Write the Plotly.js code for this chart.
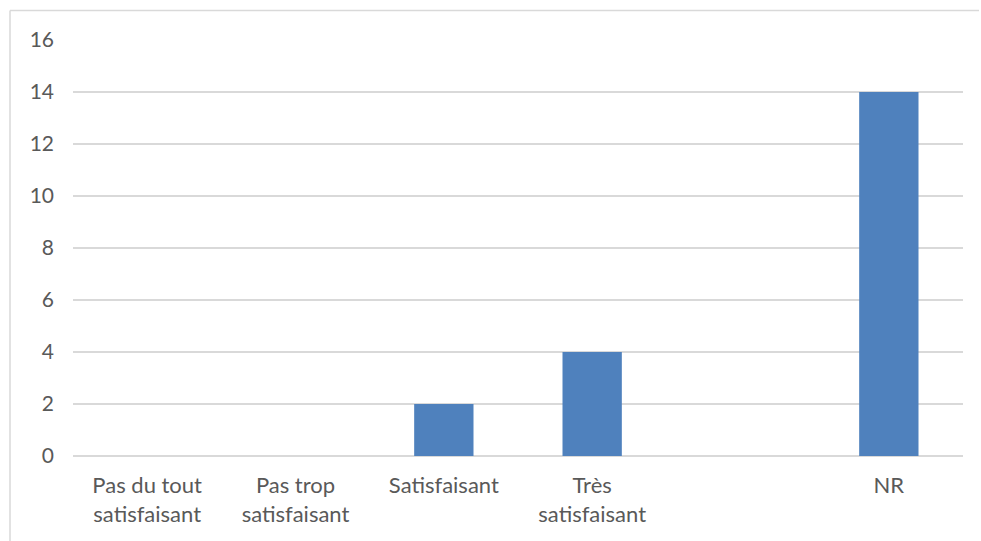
<!DOCTYPE html>
<html>
<head>
<meta charset="utf-8">
<script src="https://cdn.plot.ly/plotly-3.0.1.min.js"></script>
<style>html,body{margin:0;padding:0;background:#fff;overflow:hidden;}#chart{width:981px;height:541px;}</style>
</head>
<body>
<div id="chart"></div>
<script>
const categories = ['Pas du tout<br>satisfaisant', 'Pas trop<br>satisfaisant', 'Satisfaisant', 'Très<br>satisfaisant', ' ', 'NR'];
const values = [0, 0, 2, 4, 0, 14];
const yTicks = [0, 2, 4, 6, 8, 10, 12, 14, 16];

const W = 981, H = 541;
const m = {l: 73, r: 18, t: 40, b: 85};
const pw = W - m.l - m.r, ph = H - m.t - m.b;
const bx0 = (10 - m.l) / pw, bx1 = (W - 2 - m.l) / pw;
const by0 = -(m.b) / ph, by1 = (H - m.b - 10.5) / ph;

Plotly.newPlot('chart', [{
  type: 'bar',
  x: categories,
  y: values,
  marker: {color: '#4f81bd'},
  hoverinfo: 'x+y'
}], {
  width: W, height: H,
  margin: m,
  paper_bgcolor: '#ffffff',
  plot_bgcolor: '#ffffff',
  bargap: 0.6,
  showlegend: false,
  font: {family: 'Lato, "Open Sans", sans-serif', size: 22, color: '#595959'},
  xaxis: {
    type: 'category',
    categoryorder: 'array',
    categoryarray: categories,
    showgrid: false,
    showline: false,
    zeroline: false,
    ticks: '',
    tickangle: 0,
    ticklabelstandoff: 14,
    tickfont: {family: 'Lato, "Open Sans", sans-serif', size: 22, color: '#595959'}
  },
  yaxis: {
    range: [0, 16],
    tickvals: yTicks,
    ticktext: yTicks.map(String),
    showgrid: true,
    gridcolor: '#d9d9d9',
    gridwidth: 1.3,
    zeroline: true,
    zerolinecolor: '#d9d9d9',
    zerolinewidth: 1.3,
    showline: false,
    ticks: '',
    ticklabelstandoff: 18,
    tickfont: {family: 'Lato, "Open Sans", sans-serif', size: 21, color: '#595959'}
  },
  shapes: [
    {type: 'line', xref: 'paper', yref: 'paper', x0: bx0, x1: bx0, y0: by0, y1: by1,
     line: {color: '#d9d9d9', width: 1.5}, layer: 'below'},
    {type: 'line', xref: 'paper', yref: 'paper', x0: bx0, x1: bx1, y0: by1, y1: by1,
     line: {color: '#d9d9d9', width: 1.5}, layer: 'below'}
  ]
}, {displayModeBar: false, staticPlot: true});
</script>
</body>
</html>
